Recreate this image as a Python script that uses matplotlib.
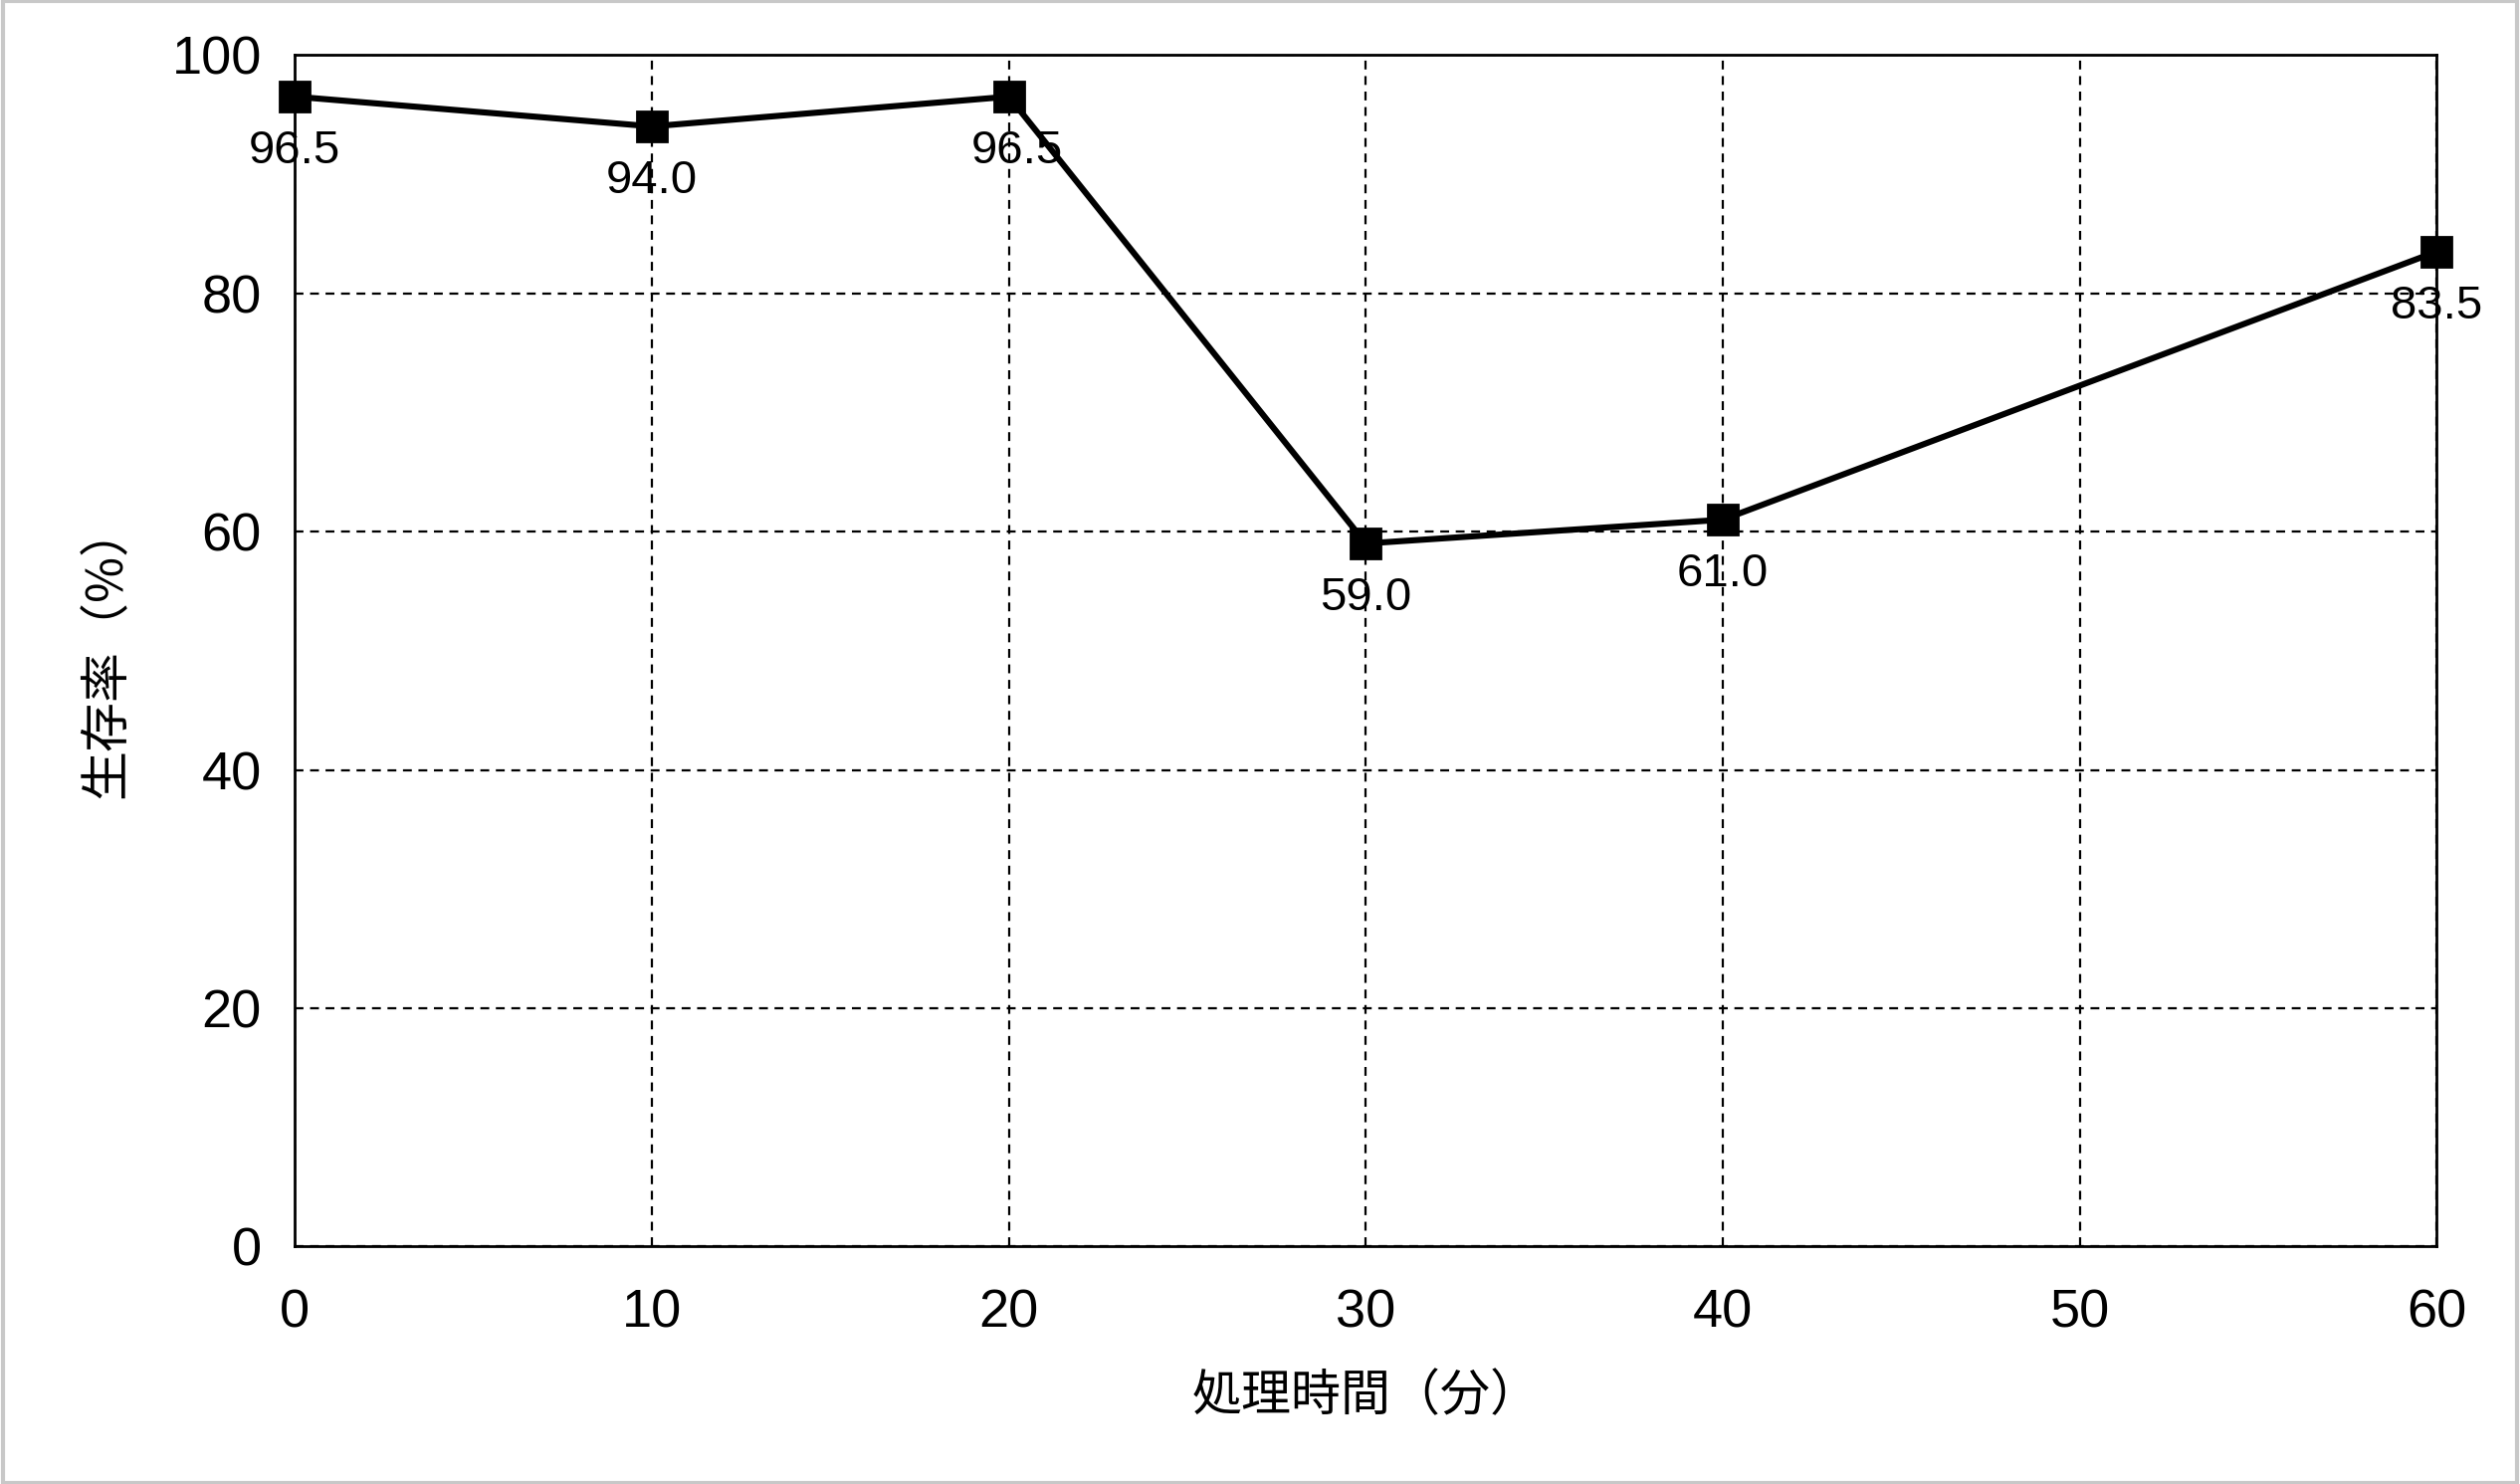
import matplotlib
matplotlib.use("Agg")
import matplotlib.pyplot as plt
from matplotlib.patches import Rectangle

x = [0, 10, 20, 30, 40, 60]
y = [96.5, 94.0, 96.5, 59.0, 61.0, 83.5]
labels = ["96.5", "94.0", "96.5", "59.0", "61.0", "83.5"]
xticks = [0, 10, 20, 30, 40, 50, 60]
yticks = [0, 20, 40, 60, 80, 100]

plt.rcParams['font.family'] = ['Liberation Sans', 'Noto Sans CJK JP', 'DejaVu Sans']
fig = plt.figure(figsize=(12.66, 7.455), dpi=200)
ax = fig.add_axes([0.117, 0.160, 0.850, 0.803])
ax.plot(x, y, color='black', lw=2.2, marker='s', ms=11, zorder=3, clip_on=False)
for xi, yi, l in zip(x, y, labels):
    dx = 3 if xi == 20 else 0
    ax.annotate(l, (xi, yi), xytext=(dx, -12), textcoords='offset points',
                ha='center', va='top', fontsize=17)
ax.set_xlim(0, 60)
ax.set_ylim(0, 100)
ax.set_xticks(xticks)
ax.set_yticks(yticks)
ax.tick_params(labelsize=19.5, length=0)
ax.tick_params(axis='x', pad=15)
ax.tick_params(axis='y', pad=12)
ax.grid(True, ls='--', color='black', lw=0.8, dashes=(4, 3))
for s in ax.spines.values():
    s.set_color('black'); s.set_linewidth(1.0)
ax.set_xlabel('処理時間（分）', fontsize=18, family=['Noto Sans CJK JP'], labelpad=12)
ax.set_ylabel('生存率（%）', fontsize=18, family=['Noto Sans CJK JP'], labelpad=14)
fig.patches.append(Rectangle((0.001, 0.001), 0.998, 0.998, transform=fig.transFigure,
                             fill=False, edgecolor='#c8c8c8', lw=1.5))
fig.savefig('out.png', dpi=200, facecolor='white')
